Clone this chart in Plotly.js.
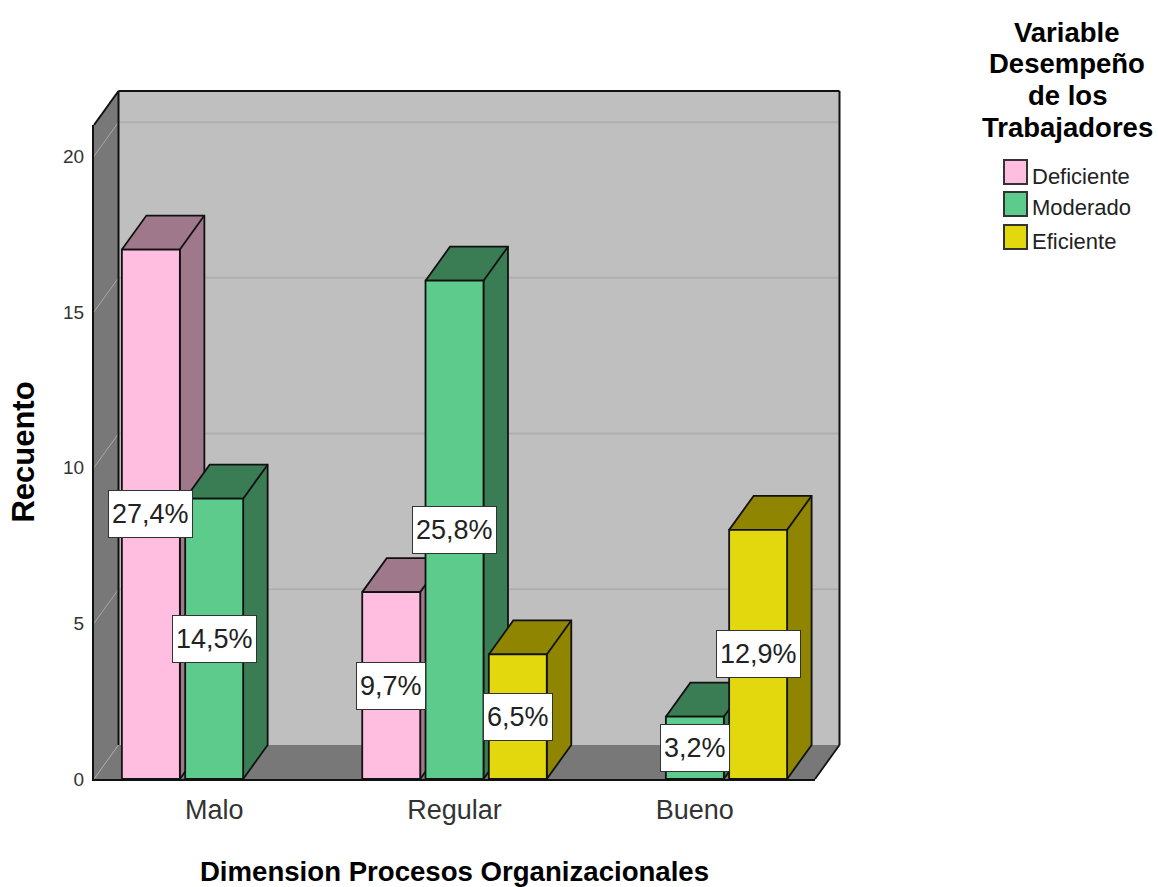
<!DOCTYPE html>
<html>
<head>
<meta charset="utf-8">
<script src="https://cdn.plot.ly/plotly-3.0.1.min.js"></script>
<style>html,body{margin:0;padding:0;background:#fff}#chart{width:1158px;height:887px}</style>
</head>
<body>
<div id="chart"></div>
<script>
// Recuento de trabajadores por dimensión y nivel de desempeño
const categories = ['Malo', 'Regular', 'Bueno'];
const seriesNames = ['Deficiente', 'Moderado', 'Eficiente'];
const deficiente = [17, 6, null];
const moderado = [9, 16, 2];
const eficiente = [null, 4, 8];
const deficienteLabels = ['27,4%', '9,7%', null];
const moderadoLabels = ['14,5%', '25,8%', '3,2%'];
const eficienteLabels = [null, '6,5%', '12,9%'];
const yTicks = [0, 5, 10, 15, 20];
const legendTitleLines = ['Variable', 'Desempeño', 'de los', 'Trabajadores'];

const frontColors = ['#FFBEE0', '#5CCB8C', '#E3D80E'];
const depthColors = ['#A0788C', '#3A7D55', '#8F8500'];
const seriesValues = [deficiente, moderado, eficiente];
const seriesLabels = [deficienteLabels, moderadoLabels, eficienteLabels];

const W = 1158, H = 887;
const font = 'Liberation Sans, Arial, sans-serif';
const INK = '#111';
const EDGE = 1.8;

// Front plane of the box, in page pixels, and its value range
const frontL = 94, frontR = 815, frontT = 125, frontB = 779;
const xMin = -0.5, xMax = 2.5, yMax = 21;
const xScale = (frontR - frontL) / (xMax - xMin);
const yScale = (frontB - frontT) / yMax;

// Depth of the box and of each bar, in axis units
const depthX = 24.5 / xScale, depthY = 34 / yScale;

// Outer frame holding walls and depth faces, on the same scale as the front plane
const outerL = 92, outerR = 843, outerT = 88, outerB = 781;

const barGap = 0.21, barGroupGap = 0.084;
const slot = (1 - barGap) / seriesValues.length;
const barWidth = slot * (1 - barGroupGap);
const slotCenter = (cat, s) => cat + (s - (seriesValues.length - 1) / 2) * slot;

const catIndex = categories.map((_, i) => i);

// Top and right faces of each bar, one filled trace per series
const depthTraces = seriesValues.map((vals, s) => {
  const xs = [], ys = [];
  vals.forEach((v, c) => {
    if (v === null) return;
    const l = slotCenter(c, s) - barWidth / 2, r = l + barWidth;
    xs.push(l, l + depthX, r + depthX, r + depthX, r, r, null);
    ys.push(v, v + depthY, v + depthY, depthY, 0, v, null);
    // edge shared by the top and right faces
    xs.push(r, r + depthX, null);
    ys.push(v, v + depthY, null);
    xs.push(l, r, null);
    ys.push(v, v, null);
  });
  return {
    type: 'scatter', mode: 'lines', x: xs, y: ys, xaxis: 'x', yaxis: 'y',
    fill: 'toself', fillcolor: depthColors[s],
    line: {color: INK, width: EDGE}, hoverinfo: 'skip', showlegend: false
  };
});

// Front faces of the bars
const barTraces = seriesValues.map((vals, s) => ({
  type: 'bar', name: seriesNames[s], x: catIndex, y: vals, xaxis: 'x2', yaxis: 'y2',
  marker: {color: frontColors[s], line: {color: INK, width: EDGE}},
  showlegend: false
}));

// Box walls, floor and grid
const poly = pts => 'M' + pts.map(p => p[0] + ',' + p[1]).join('L') + 'Z';
const inData = o => Object.assign({xref: 'x', yref: 'y', layer: 'below'}, o);
const segment = (x0, y0, x1, y1, color, width) =>
  inData({type: 'line', x0, y0, x1, y1, line: {color, width}});

const backL = xMin + depthX, backR = xMax + depthX, backT = yMax + depthY;
const shapes = [
  inData({type: 'path', path: poly([[backL, depthY], [backL, backT], [backR, backT], [backR, depthY]]),
    fillcolor: '#BFBFBF', line: {width: 0}}),
  inData({type: 'path', path: poly([[xMin, 0], [xMin, yMax], [backL, backT], [backL, depthY]]),
    fillcolor: '#787878', line: {width: 0}}),
  inData({type: 'path', path: poly([[xMin, 0], [backL, depthY], [backR, depthY], [xMax, 0]]),
    fillcolor: '#787878', line: {width: 0}})
];
yTicks.forEach(t => {
  if (t > 0) shapes.push(segment(backL, t + depthY, backR, t + depthY, '#AFAFAF', 2));
  shapes.push(segment(xMin, t, backL, t + depthY, '#A8A8A8', 1));
});
shapes.push(
  segment(xMin, yMax, backL, backT, INK, 2),
  segment(backL, backT, backR, backT, INK, 2),
  segment(backL, depthY, backL, backT, INK, 2),
  segment(backR, depthY, backR, backT, INK, 2),
  segment(xMax, 0, backR, depthY, INK, EDGE)
);

// Legend drawn as square swatches beside the chart
const px = x => x / W, py = y => 1 - y / H;
const swatchTop = [160, 192, 225], swatchSize = 24, swatchL = 1004;
seriesNames.forEach((_, s) => shapes.push({
  type: 'rect', xref: 'paper', yref: 'paper',
  x0: px(swatchL), x1: px(swatchL + swatchSize - 1),
  y0: py(swatchTop[s]), y1: py(swatchTop[s] + swatchSize),
  fillcolor: frontColors[s], line: {color: '#333', width: 2}
}));

const annotations = [];
legendTitleLines.forEach((line, i) => annotations.push({
  xref: 'paper', yref: 'paper', x: px(1067), y: py(32 + i * 31.7), text: line,
  showarrow: false, xanchor: 'center', yanchor: 'middle',
  font: {family: font, size: 27.5, color: '#000', weight: 'bold'}
}));
seriesNames.forEach((name, s) => annotations.push({
  xref: 'paper', yref: 'paper', x: px(1030), y: py(swatchTop[s] + 16), text: name,
  showarrow: false, xanchor: 'left', yanchor: 'middle',
  font: {family: font, size: 22, color: '#222'}
}));

// Percentage labels centred on each bar
seriesLabels.forEach((labels, s) => labels.forEach((text, c) => {
  if (text === null) return;
  annotations.push({
    xref: 'x2', yref: 'y2', x: slotCenter(c, s), y: seriesValues[s][c] / 2, text,
    showarrow: false, xanchor: 'center', yanchor: 'middle',
    bgcolor: '#FFFFFF', bordercolor: '#333', borderwidth: 1, borderpad: 3, height: 40,
    font: {family: font, size: 27, color: '#222'}
  });
}));

const layout = {
  width: W, height: H,
  margin: {l: 0, r: 0, t: 0, b: 0, autoexpand: false},
  paper_bgcolor: '#FFFFFF', plot_bgcolor: 'rgba(0,0,0,0)',
  barmode: 'group', bargap: barGap, bargroupgap: barGroupGap,
  showlegend: false,
  xaxis: {
    domain: [px(outerL), px(outerR)], anchor: 'y', visible: false, fixedrange: true,
    range: [xMin - (frontL - outerL) / xScale, xMin + (outerR - frontL) / xScale]
  },
  yaxis: {
    domain: [py(outerB), py(outerT)], anchor: 'x', visible: false, fixedrange: true,
    range: [-(outerB - frontB) / yScale, (frontB - outerT) / yScale]
  },
  xaxis2: {
    domain: [px(frontL), px(frontR)], anchor: 'y2', range: [xMin, xMax], fixedrange: true,
    tickmode: 'array', tickvals: catIndex, ticktext: categories, ticks: '', ticklabelstandoff: 6,
    tickfont: {family: font, size: 27, color: '#333'},
    showgrid: false, zeroline: false, showline: true, linecolor: INK, linewidth: 2,
    title: {text: 'Dimension Procesos Organizacionales', standoff: 41,
      font: {family: font, size: 27.6, color: '#000', weight: 'bold'}}
  },
  yaxis2: {
    domain: [py(frontB), py(frontT)], anchor: 'x2', range: [0, yMax], fixedrange: true,
    tickmode: 'array', tickvals: yTicks, ticks: '', ticklabelstandoff: 4,
    tickfont: {family: font, size: 19, color: '#333'},
    showgrid: false, zeroline: false, showline: true, linecolor: INK, linewidth: 2,
    title: {text: 'Recuento', standoff: 19,
      font: {family: font, size: 31, color: '#000', weight: 'bold'}}
  },
  shapes, annotations
};

Plotly.newPlot('chart', depthTraces.concat(barTraces), layout, {displayModeBar: false, staticPlot: true});
</script>
</body>
</html>
